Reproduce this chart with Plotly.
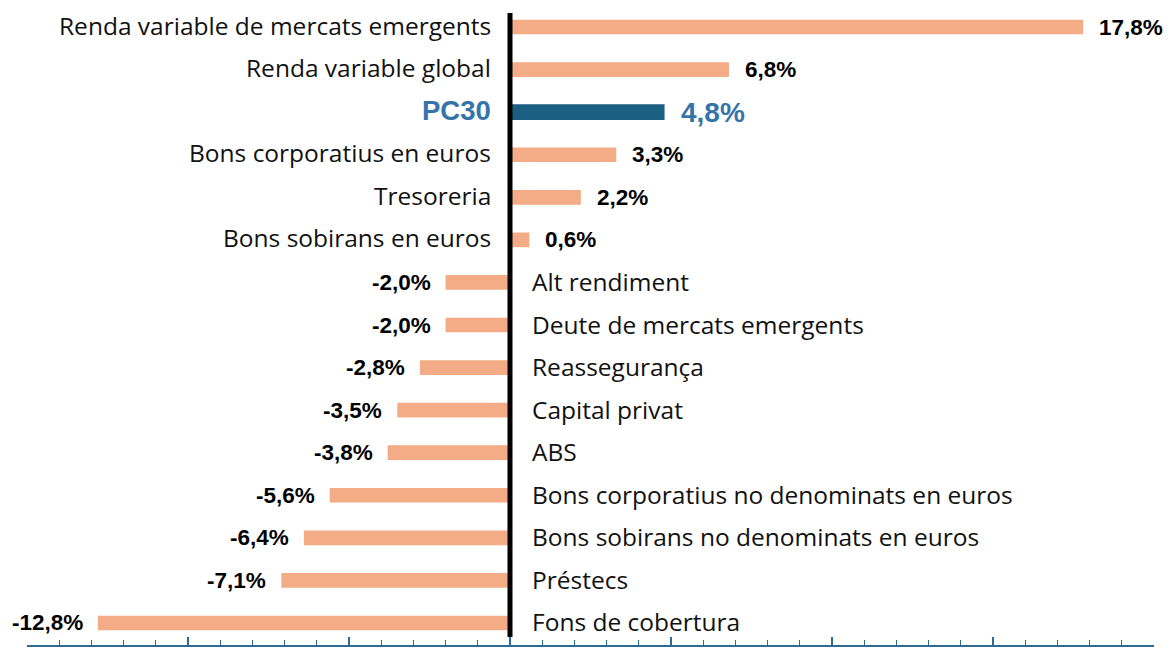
import plotly.graph_objects as go

categories = ["Renda variable de mercats emergents", "Renda variable global", "PC30",
              "Bons corporatius en euros", "Tresoreria", "Bons sobirans en euros",
              "Alt rendiment", "Deute de mercats emergents", "Reassegurança",
              "Capital privat", "ABS", "Bons corporatius no denominats en euros",
              "Bons sobirans no denominats en euros", "Préstecs", "Fons de cobertura"]
values = [17.8, 6.8, 4.8, 3.3, 2.2, 0.6, -2.0, -2.0, -2.8, -3.5, -3.8, -5.6, -6.4, -7.1, -12.8]
highlight = "PC30"

ORANGE = "#F3AC85"
NAVY = "#1A5E82"
BLUE_TXT = "#3574A8"
CAT_FONT = "Open Sans"
VAL_FONT = "Liberation Sans, Arial"
AXIS_COL = "#2F6A94"

pos = list(range(len(categories)))
colors = [NAVY if c == highlight else ORANGE for c in categories]
widths = [0.37 if c == highlight else 0.345 for c in categories]

fig = go.Figure()
fig.add_trace(go.Bar(x=values, y=pos, orientation="h", marker=dict(color=colors, line=dict(width=0)),
                     width=widths, hoverinfo="skip"))

annotations = []
for p, c, v in zip(pos, categories, values):
    is_h = c == highlight
    txt = f"{v:.1f}".replace(".", ",") + "%"
    if is_h:
        cat_font = dict(family=VAL_FONT, size=27.5, color=BLUE_TXT)
        cat_text = f"<b>{c}</b>"
        val_font = dict(family=VAL_FONT, size=28, color=BLUE_TXT)
    else:
        cat_font = dict(family=CAT_FONT, size=24.5, color="#111111")
        cat_text = c
        val_font = dict(family=VAL_FONT, size=22.5, color="#000000")
    if v >= 0:
        annotations.append(dict(x=0, y=p, xref="x", yref="y", text=cat_text, showarrow=False,
                                xanchor="right", xshift=-17, yshift=2, font=cat_font))
        annotations.append(dict(x=v, y=p, xref="x", yref="y", text=f"<b>{txt}</b>", showarrow=False,
                                xanchor="left", xshift=14, font=val_font))
    else:
        annotations.append(dict(x=0, y=p, xref="x", yref="y", text=cat_text, showarrow=False,
                                xanchor="left", xshift=20, yshift=1, font=cat_font))
        annotations.append(dict(x=v, y=p, xref="x", yref="y", text=f"<b>{txt}</b>", showarrow=False,
                                xanchor="right", xshift=-13, font=val_font))

fig.add_shape(type="line", xref="x", yref="y", x0=0, x1=0, y0=-0.33, y1=14.33,
              line=dict(color="black", width=5), layer="above")

fig.update_layout(
    width=1167, height=647,
    margin=dict(l=27, r=13, t=5, b=2),
    plot_bgcolor="white", paper_bgcolor="white",
    showlegend=False,
    annotations=annotations,
    xaxis=dict(range=[-15, 20], showgrid=False, zeroline=False, showticklabels=False,
               showline=True, linecolor=AXIS_COL, linewidth=1.5,
               ticks="inside", tick0=0, dtick=5, ticklen=8, tickcolor=AXIS_COL, tickwidth=1.5,
               minor=dict(dtick=1, ticks="inside", ticklen=5, tickcolor=AXIS_COL, tickwidth=1,
                          showgrid=False)),
    yaxis=dict(range=[14.517, -0.517], visible=False),
)
fig.write_html("out.html", config={"staticPlot": True, "displayModeBar": False},
               post_script="document.body.style.margin='0';document.body.style.overflow='hidden';")
